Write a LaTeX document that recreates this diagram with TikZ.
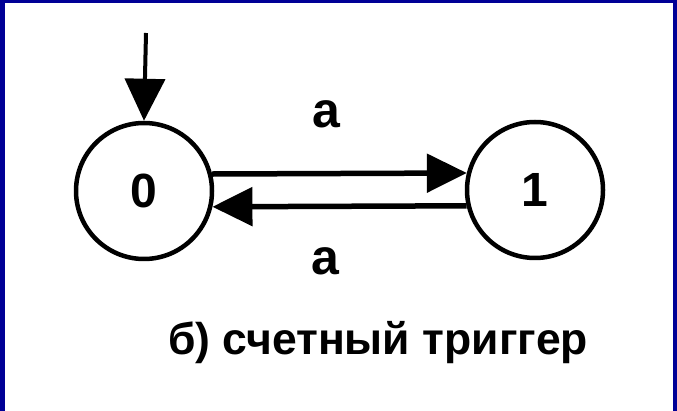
\documentclass[tikz,border=0pt]{standalone}
\usepackage{fontspec}
\setmainfont{Liberation Sans}
\usetikzlibrary{arrows.meta}
\definecolor{frameblue}{RGB}{0,0,150}
\begin{document}
\begin{tikzpicture}[x=1pt,y=-1pt,
  state/.style={circle,draw=black,line width=4.5pt,minimum size=136pt,inner sep=0pt,
    font=\fontsize{48}{50}\selectfont\bfseries},
  lbl/.style={font=\fontsize{50}{52}\selectfont\bfseries,inner sep=0pt,anchor=base},
  captext/.style={font=\fontsize{44.5}{47}\selectfont\bfseries,inner sep=0pt,anchor=base},
  transline/.style={line width=5.5pt,-{Triangle[length=40pt,width=38pt]}},
  initline/.style={line width=4pt,-{Triangle[length=42pt,width=40pt]}}]
\useasboundingbox (0,0) rectangle (677,411);
\fill[frameblue] (0,0) rectangle (677,411);
\fill[white] (5,3) rectangle (673,411);
\node[state] (n0) at (144,191) {0};
\node[state] (n1) at (535,190) {1};
\coordinate (start) at (146,33);
\draw[initline] (start) -- (n0.north);
\draw[transline] (n0.14) -- (n1.166);
\draw[transline] (n1.193) -- (n0.347);
\node[lbl] (la) at (326,128) {a};
\node[lbl] (lb) at (325,275) {a};
\node[captext] (caption) at (378,355) {б) счетный триггер};
\end{tikzpicture}
\end{document}
